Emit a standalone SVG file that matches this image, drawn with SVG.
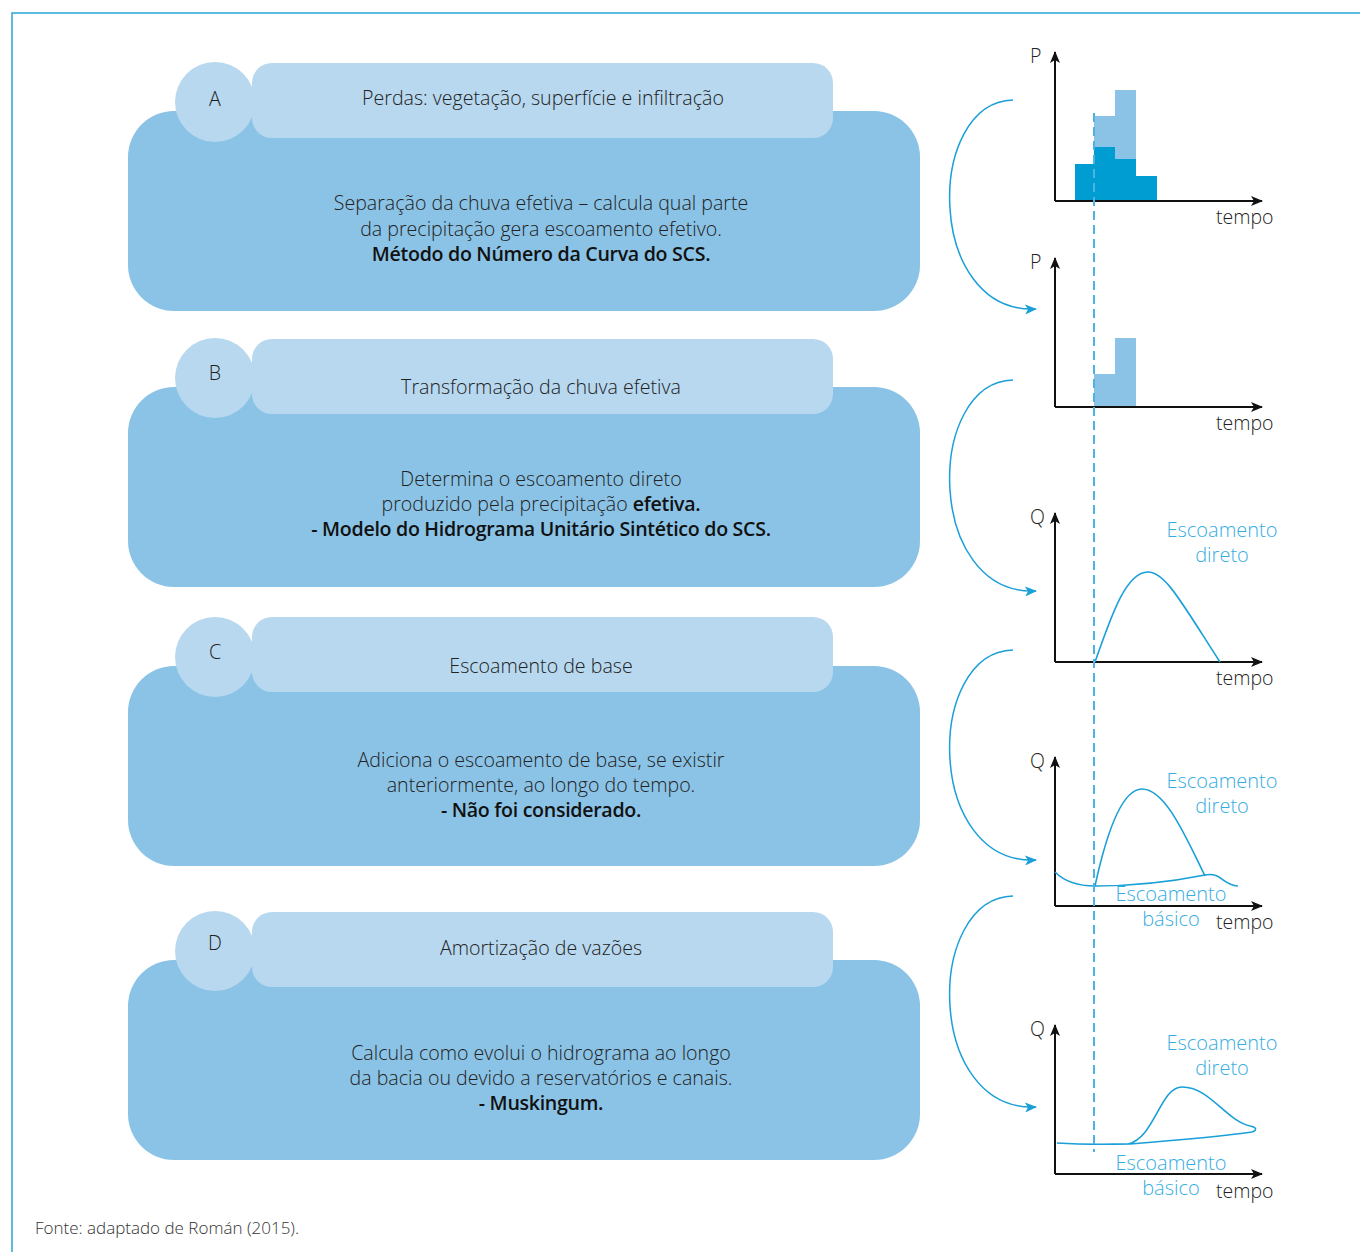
<svg xmlns="http://www.w3.org/2000/svg" width="1360" height="1252" viewBox="0 0 1360 1252">
<style>
.big{fill:#8bc3e6}
.hdr{fill:#b7d8ef}
.t{font-family:"Open Sans","Liberation Sans",sans-serif;font-size:19.6px;font-weight:300;fill:#222;text-anchor:middle}
.b{font-weight:600;fill:#111;letter-spacing:-0.3px}
.lbl{font-family:"Open Sans","Liberation Sans",sans-serif;font-size:19.5px;font-weight:300;fill:#222}
.blue{font-family:"Open Sans","Liberation Sans",sans-serif;font-size:20px;font-weight:300;fill:#36ade2;text-anchor:middle}
.axis{stroke:#111;stroke-width:2;fill:none}
.curve{stroke:#1a9fd8;stroke-width:1.6;fill:none}
.conn{stroke:#1a9fd8;stroke-width:1.5;fill:none}
.dash{stroke:#4eb3e3;stroke-width:2;stroke-dasharray:9,5;fill:none}
.dark{fill:#009dd3}
.light{fill:#8bc3e6}
</style>
<defs>
<marker id="ax" viewBox="0 0 12 10" refX="11" refY="5" markerWidth="12" markerHeight="10" markerUnits="userSpaceOnUse" orient="auto">
<path d="M0,0 L12,5 L0,10 L3,5 Z" fill="#111"/>
</marker>
<marker id="ar" viewBox="0 0 12 10" refX="11" refY="5" markerWidth="12" markerHeight="10" markerUnits="userSpaceOnUse" orient="auto">
<path d="M0,0 L12,5 L0,10 L3,5 Z" fill="#1a9fd8"/>
</marker>
</defs>
<rect width="1360" height="1252" fill="#fff"/>
<path d="M12,1252 V13 H1360" stroke="#2aa6d6" stroke-width="1.5" fill="none"/>

<g id="nodeA">
<rect class="big" x="128" y="111" width="792" height="200" rx="46"/>
<rect class="hdr" x="252" y="63" width="581" height="75" rx="20"/>
<circle class="hdr" cx="215" cy="102" r="40"/>
<text class="t" x="215" y="106">A</text>
<text class="t" x="543" y="105">Perdas: vegetação, superfície e infiltração</text>
<text class="t" x="541" y="210">Separação da chuva efetiva – calcula qual parte</text>
<text class="t" x="541" y="236">da precipitação gera escoamento efetivo.</text>
<text class="t b" x="541" y="261">Método do Número da Curva do SCS.</text>
</g>

<g id="nodeB">
<rect class="big" x="128" y="387" width="792" height="200" rx="46"/>
<rect class="hdr" x="252" y="339" width="581" height="75" rx="20"/>
<circle class="hdr" cx="215" cy="378" r="40"/>
<text class="t" x="215" y="380">B</text>
<text class="t" x="541" y="394">Transformação da chuva efetiva</text>
<text class="t" x="541" y="486">Determina o escoamento direto</text>
<text class="t" x="541" y="511">produzido pela precipitação <tspan class="b">efetiva.</tspan></text>
<text class="t b" x="541" y="536">- Modelo do Hidrograma Unitário Sintético do SCS.</text>
</g>

<g id="nodeC">
<rect class="big" x="128" y="666" width="792" height="200" rx="46"/>
<rect class="hdr" x="252" y="617" width="581" height="75" rx="20"/>
<circle class="hdr" cx="215" cy="657" r="40"/>
<text class="t" x="215" y="659">C</text>
<text class="t" x="541" y="673">Escoamento de base</text>
<text class="t" x="541" y="767">Adiciona o escoamento de base, se existir</text>
<text class="t" x="541" y="792">anteriormente, ao longo do tempo.</text>
<text class="t b" x="541" y="817">- Não foi considerado.</text>
</g>

<g id="nodeD">
<rect class="big" x="128" y="960" width="792" height="200" rx="46"/>
<rect class="hdr" x="252" y="912" width="581" height="75" rx="20"/>
<circle class="hdr" cx="215" cy="951" r="40"/>
<text class="t" x="215" y="950">D</text>
<text class="t" x="541" y="955">Amortização de vazões</text>
<text class="t" x="541" y="1060">Calcula como evolui o hidrograma ao longo</text>
<text class="t" x="541" y="1085">da bacia ou devido a reservatórios e canais.</text>
<text class="t b" x="541" y="1110">- Muskingum.</text>
</g>

<g id="graph1">
<rect class="dark" x="1075" y="164" width="19" height="37"/>
<rect class="light" x="1094" y="116" width="21" height="31"/>
<rect class="dark" x="1094" y="147" width="21" height="54"/>
<rect class="light" x="1115" y="90" width="21" height="69"/>
<rect class="dark" x="1115" y="159" width="21" height="42"/>
<rect class="dark" x="1136" y="176" width="21" height="25"/>
<path class="axis" d="M1055,201 V52" marker-end="url(#ax)"/>
<path class="axis" d="M1055,201 H1262" marker-end="url(#ax)"/>
<text class="lbl" x="1030" y="63">P</text>
<text class="lbl" x="1216" y="224">tempo</text>
</g>

<g id="graph2">
<rect class="light" x="1094" y="374" width="21" height="33"/>
<rect class="light" x="1115" y="338" width="21" height="69"/>
<path class="axis" d="M1055,407 V258" marker-end="url(#ax)"/>
<path class="axis" d="M1055,407 H1262" marker-end="url(#ax)"/>
<text class="lbl" x="1030" y="269">P</text>
<text class="lbl" x="1216" y="430">tempo</text>
</g>

<g id="graph3">
<path class="axis" d="M1055,662 V513" marker-end="url(#ax)"/>
<path class="axis" d="M1055,662 H1262" marker-end="url(#ax)"/>
<text class="lbl" x="1030" y="524">Q</text>
<text class="lbl" x="1216" y="685">tempo</text>
<path class="curve" d="M1095,662 C1110,620 1125,572 1148,572 C1165,572 1180,600 1220,662"/>
<text class="blue" x="1222" y="537">Escoamento</text>
<text class="blue" x="1222" y="562">direto</text>
</g>

<g id="graph4">
<path class="axis" d="M1055,906 V757" marker-end="url(#ax)"/>
<path class="axis" d="M1055,906 H1262" marker-end="url(#ax)"/>
<text class="lbl" x="1030" y="768">Q</text>
<text class="lbl" x="1216" y="929">tempo</text>
<path class="curve" d="M1055,872 C1065,882 1080,886 1095,886 C1140,886 1180,880 1205,875 C1222,872 1222,885 1238,886"/>
<path class="curve" d="M1095,886 C1105,840 1120,789 1142,789 C1165,789 1185,835 1205,876"/>
<text class="blue" x="1222" y="788">Escoamento</text>
<text class="blue" x="1222" y="813">direto</text>
<text class="blue" x="1171" y="901">Escoamento</text>
<text class="blue" x="1171" y="926">básico</text>
</g>

<g id="graph5">
<path class="axis" d="M1055,1174 V1025" marker-end="url(#ax)"/>
<path class="axis" d="M1055,1174 H1262" marker-end="url(#ax)"/>
<text class="lbl" x="1030" y="1036">Q</text>
<text class="lbl" x="1216" y="1198">tempo</text>
<path class="curve" d="M1057,1143 C1090,1145 1110,1144 1130,1144 C1180,1140 1225,1136 1252,1132 C1258,1130 1256,1127 1250,1126 C1225,1120 1210,1087 1182,1087 C1160,1087 1155,1138 1128,1144"/>
<text class="blue" x="1222" y="1050">Escoamento</text>
<text class="blue" x="1222" y="1075">direto</text>
<text class="blue" x="1171" y="1170">Escoamento</text>
<text class="blue" x="1171" y="1195">básico</text>
</g>

<g id="connectors">
<path class="dash" d="M1094,113 V1152"/>
<path class="conn" d="M1013,100 C925,102 925,314 1036,309" marker-end="url(#ar)"/>
<path class="conn" d="M1013,380 C925,382 925,596 1036,591" marker-end="url(#ar)"/>
<path class="conn" d="M1013,650 C925,652 925,865 1036,860" marker-end="url(#ar)"/>
<path class="conn" d="M1013,896 C925,898 925,1112 1036,1107" marker-end="url(#ar)"/>
</g>

<text class="lbl" x="35" y="1234" style="font-size:17px;fill:#333">Fonte: adaptado de Román (2015).</text>
</svg>
